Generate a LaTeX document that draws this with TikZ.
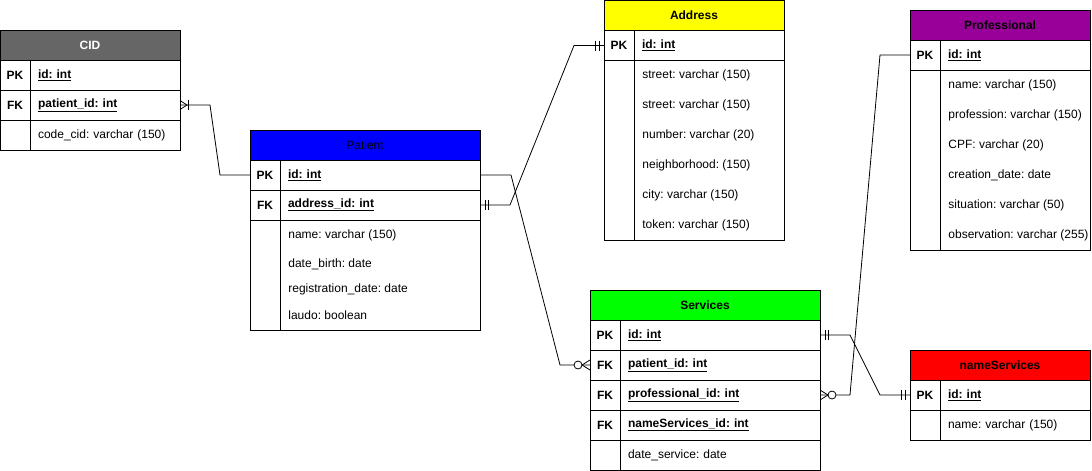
\documentclass[tikz,border=0pt]{standalone}
\usepackage{fontspec}
\setmainfont{Liberation Sans}
\newcommand{\erfont}{\fontsize{12}{14}\selectfont\frenchspacing}
\definecolor{cidgray}{HTML}{666666}
\definecolor{patblue}{HTML}{0000FF}
\definecolor{adryellow}{HTML}{FFFF00}
\definecolor{propurple}{HTML}{990099}
\definecolor{srvgreen}{HTML}{00FF00}
\definecolor{nsred}{HTML}{FF0000}
\tikzset{
  hdr/.style={draw, anchor=north west, minimum height=30pt, inner sep=0pt, outer sep=0pt, font=\erfont\bfseries},
  keyc/.style={draw, anchor=north west, minimum width=30pt, minimum height=30pt, inner sep=0pt, outer sep=0pt, font=\erfont\bfseries},
  fld/.style={draw, anchor=north west, minimum height=30pt, inner xsep=8pt, inner ysep=0pt, outer sep=0pt, align=left, font=\erfont},
  keyf/.style={fld, font=\erfont\bfseries},
  attr/.style={anchor=west, inner sep=0pt, font=\erfont},
  conn/.style={line width=0.8pt},
  mk/.style={line width=0.8pt},
  every path/.style={line width=0.8pt}
}
\newcommand{\ermandone}[2]{\begin{scope}[shift={(#1)},xscale=#2]\draw[mk] (5,-5)--(5,5) (8.5,-5)--(8.5,5);\end{scope}}
\newcommand{\erzeromany}[2]{\begin{scope}[shift={(#1)},xscale=#2]\draw[mk] (0,-5)--(8,0)--(0,5); \draw[mk,fill=white] (12,0) circle[radius=4];\end{scope}}
\newcommand{\eronemany}[2]{\begin{scope}[shift={(#1)},xscale=#2]\draw[mk] (0,-4.5)--(7,0)--(0,4.5); \draw[mk] (8,-5)--(8,5);\end{scope}}
\begin{document}
\begin{tikzpicture}[x=1pt,y=-1pt]
\useasboundingbox (0,0) rectangle (1092,471);
% ---------- CID ----------
\node[hdr, fill=cidgray, text=white, minimum width=180pt] (cid) at (0,30) {CID};
\node[keyc] (cid-pk-k) at (0,60) {PK};
\node[keyf, text width=134pt] (cid-pk-f) at (30,60) {\underline{id: int}};
\node[keyc] (cid-fk-k) at (0,90) {FK};
\node[keyf, text width=134pt] (cid-fk-f) at (30,90) {\underline{patient\_id: int}};
\node[keyc] (cid-a-k) at (0,120) {};
\node[fld, text width=134pt] (cid-a-f) at (30,120) {code\_cid: varchar (150)};
% ---------- Patient ----------
\node[hdr, fill=patblue, font=\erfont, minimum width=230pt] (pat) at (250,130) {Patient};
\node[keyc] (pat-pk-k) at (250,160) {PK};
\node[keyf, text width=184pt] (pat-pk-f) at (280,160) {\underline{id: int}};
\node[keyc] (pat-fk-k) at (250,190) {FK};
\node[keyf, text width=184pt] (pat-fk-f) at (280,190) {\underline{address\_id: int}};
\draw (250,220) rectangle (480,330) (280,220) -- (280,330);
\node[attr] (pat-a1) at (288,235) {name: varchar (150)};
\node[attr] (pat-a2) at (288,264) {date\_birth: date};
\node[attr] (pat-a3) at (288,289) {registration\_date: date};
\node[attr] (pat-a4) at (288,315) {laudo: boolean};
% ---------- Address ----------
\node[hdr, fill=adryellow, minimum width=180pt] (adr) at (604,0.5) {Address};
\node[keyc] (adr-pk-k) at (604,30.5) {PK};
\node[keyf, text width=134pt] (adr-pk-f) at (634,30.5) {\underline{id: int}};
\draw (604,60.5) rectangle (784,240.5) (634,60.5) -- (634,240.5);
\node[attr] (adr-a1) at (642,75.5) {street: varchar (150)};
\node[attr] (adr-a2) at (642,105.5) {street: varchar (150)};
\node[attr] (adr-a3) at (642,135.5) {number: varchar (20)};
\node[attr] (adr-a4) at (642,165.5) {neighborhood: (150)};
\node[attr] (adr-a5) at (642,195.5) {city: varchar (150)};
\node[attr] (adr-a6) at (642,225.5) {token: varchar (150)};
% ---------- Professional ----------
\node[hdr, fill=propurple, minimum width=180pt] (pro) at (910,10) {Professional};
\node[keyc] (pro-pk-k) at (910,40) {PK};
\node[keyf, text width=134pt] (pro-pk-f) at (940,40) {\underline{id: int}};
\draw (910,70) rectangle (1090,250) (940,70) -- (940,250);
\node[attr] (pro-a1) at (948,85) {name: varchar (150)};
\node[attr] (pro-a2) at (948,115) {profession: varchar (150)};
\node[attr] (pro-a3) at (948,145) {CPF: varchar (20)};
\node[attr] (pro-a4) at (948,175) {creation\_date: date};
\node[attr] (pro-a5) at (948,205) {situation: varchar (50)};
\node[attr] (pro-a6) at (948,235) {observation: varchar (255)};
% ---------- Services ----------
\node[hdr, fill=srvgreen, minimum width=230pt] (srv) at (590,290) {Services};
\node[keyc] (srv-pk-k) at (590,320) {PK};
\node[keyf, text width=184pt] (srv-pk-f) at (620,320) {\underline{id: int}};
\node[keyc] (srv-fk1-k) at (590,350) {FK};
\node[keyf, text width=184pt] (srv-fk1-f) at (620,350) {\underline{patient\_id: int}};
\node[keyc] (srv-fk2-k) at (590,380) {FK};
\node[keyf, text width=184pt] (srv-fk2-f) at (620,380) {\underline{professional\_id: int}};
\node[keyc] (srv-fk3-k) at (590,410) {FK};
\node[keyf, text width=184pt] (srv-fk3-f) at (620,410) {\underline{nameServices\_id: int}};
\node[keyc] (srv-a-k) at (590,440) {};
\node[fld, text width=184pt] (srv-a-f) at (620,440) {date\_service: date};
% ---------- nameServices ----------
\node[hdr, fill=nsred, minimum width=180pt] (ns) at (910,350) {nameServices};
\node[keyc] (ns-pk-k) at (910,380) {PK};
\node[keyf, text width=134pt] (ns-pk-f) at (940,380) {\underline{id: int}};
\node[keyc] (ns-a-k) at (910,410) {};
\node[fld, text width=134pt] (ns-a-f) at (940,410) {name: varchar (150)};
% ---------- connectors ----------
\draw[conn] (cid-fk-f.east) -- ++(30,0) -- ([xshift=-30pt]pat-pk-k.west) -- (pat-pk-k.west);
\draw[conn] (pat-fk-f.east) -- ++(30,0) -- ([xshift=-30pt]adr-pk-k.west) -- (adr-pk-k.west);
\draw[conn] (pat-pk-f.east) -- ++(31,0) -- ([xshift=-30pt]srv-fk1-k.west) -- (srv-fk1-k.west);
\draw[conn] (srv-fk2-f.east) -- ++(30,0) -- ([xshift=-30pt]pro-pk-k.west) -- (pro-pk-k.west);
\draw[conn] (srv-pk-f.east) -- ++(30,0) -- ([xshift=-30pt]ns-pk-k.west) -- (ns-pk-k.west);
% ---------- markers ----------
\eronemany{cid-fk-f.east}{1}
\ermandone{pat-fk-f.east}{1}
\ermandone{adr-pk-k.west}{-1}
\erzeromany{srv-fk1-k.west}{-1}
\erzeromany{srv-fk2-f.east}{1}
\ermandone{srv-pk-f.east}{1}
\ermandone{ns-pk-k.west}{-1}
\end{tikzpicture}
\end{document}
